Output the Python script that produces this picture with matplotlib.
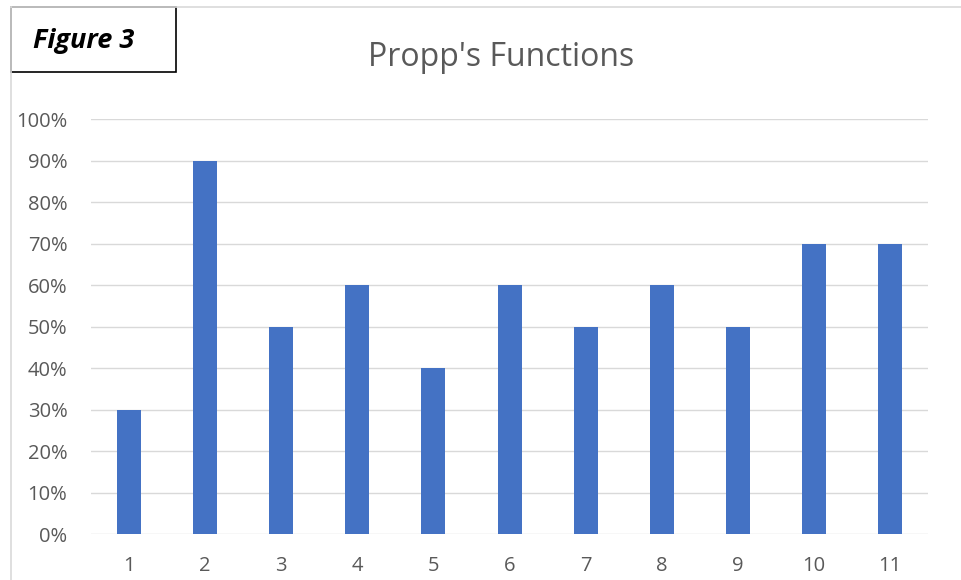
import numpy as np
import matplotlib.pyplot as plt
from matplotlib.patches import Rectangle

# Data
functions = ['1', '2', '3', '4', '5', '6', '7', '8', '9', '10', '11']
share = [0.30, 0.90, 0.50, 0.60, 0.40, 0.60, 0.50, 0.60, 0.50, 0.70, 0.70]
yticks = [0.0, 0.1, 0.2, 0.3, 0.4, 0.5, 0.6, 0.7, 0.8, 0.9, 1.0]

plt.rcParams['font.family'] = ['Open Sans', 'DejaVu Sans']
grey = '#595959'

fig = plt.figure(figsize=(9.61, 5.80), dpi=100)
ax = fig.add_axes([0.0947, 0.0793, 0.871, 0.7155])

x = np.arange(1, len(functions) + 1)
ax.bar(x, share, width=0.315, color='#4472c4', zorder=3)

ax.set_xlim(0.5, len(functions) + 0.5)
ax.set_ylim(0, 1.0)
ax.set_yticks(yticks)
ax.set_yticklabels(['{:.0f}%'.format(v * 100) for v in yticks])
ax.set_xticks(x)
ax.set_xticklabels(functions)
ax.grid(axis='y', color='#d9d9d9', linewidth=1, zorder=0)
ax.tick_params(length=0, labelsize=14.5, colors=grey)
ax.tick_params(axis='x', pad=16)
ax.tick_params(axis='y', pad=17)
for s in ax.spines.values():
    s.set_visible(False)

# chart title
fig.text(0.521, 1 - 57 / 580, "Propp's Functions", ha='center', va='center',
         fontsize=23, color=grey)

# outer chart frame (only top and left visible)
fig.add_artist(plt.Line2D([11 / 961, 11 / 961], [0, 1 - 7 / 580],
                          color='#d9d9d9', lw=1.2))
fig.add_artist(plt.Line2D([11 / 961, 1], [1 - 7 / 580, 1 - 7 / 580],
                          color='#d9d9d9', lw=1.2))

# "Figure 3" box
fig.add_artist(Rectangle((11 / 961, 1 - 72 / 580), 165 / 961, 65 / 580,
                         transform=fig.transFigure, fill=True,
                         facecolor='white', edgecolor='black', lw=1.2))
fig.text(33 / 961, 1 - 41 / 580, 'Figure 3', ha='left', va='center',
         fontsize=19.5, fontweight='bold', fontstyle='italic', color='black')

fig.savefig('out.png', dpi=100)
